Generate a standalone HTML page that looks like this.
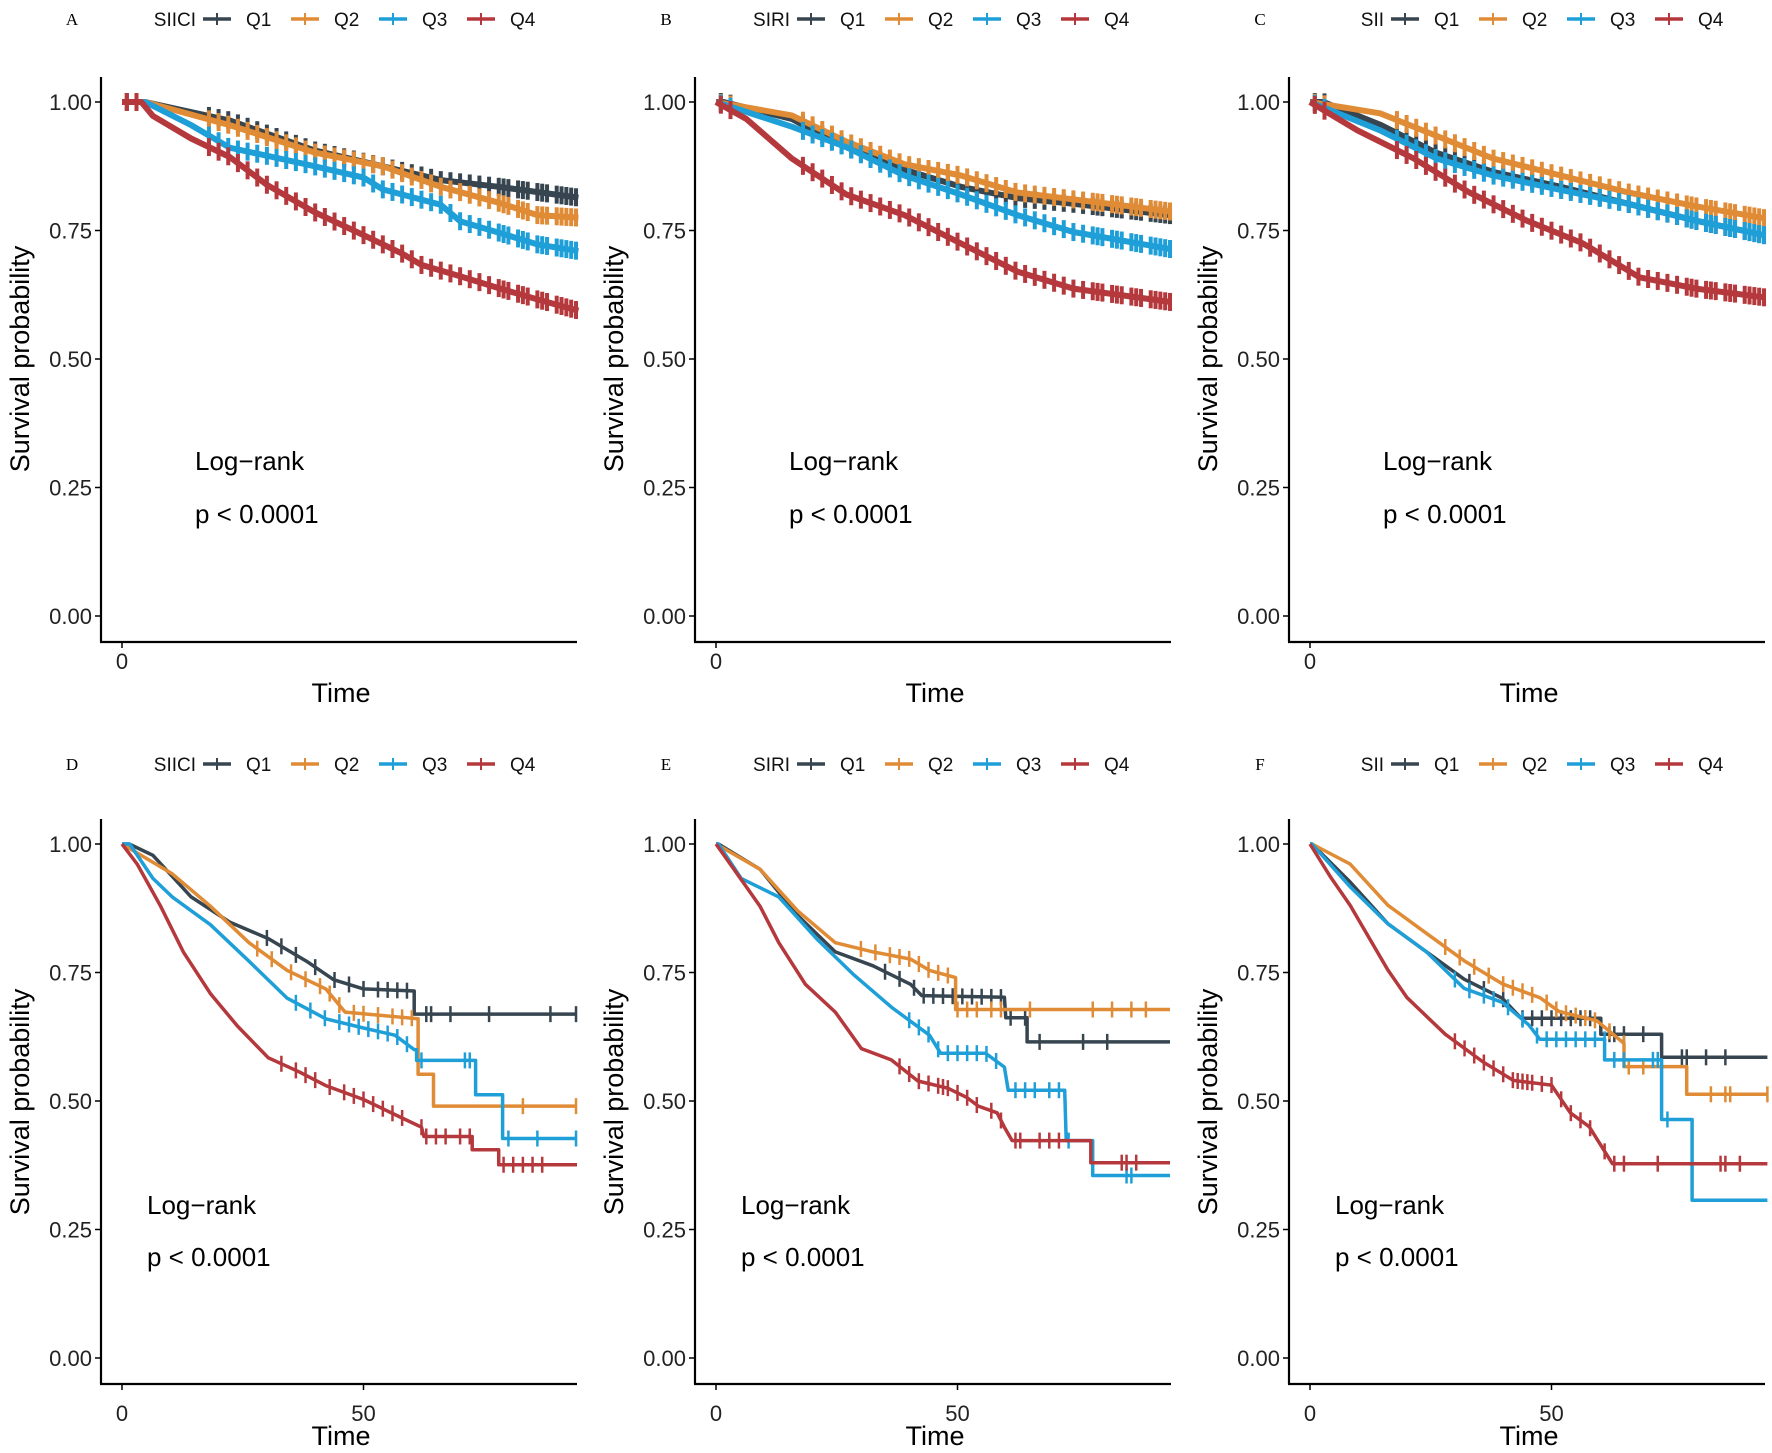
<!DOCTYPE html>
<html><head><meta charset="utf-8">
<style>
html,body{margin:0;padding:0;background:#fff;}
svg{display:block;font-family:"Liberation Sans",Arial,sans-serif;}
</style></head>
<body>
<svg id="chart" width="1772" height="1453" viewBox="0 0 1772 1453" xmlns="http://www.w3.org/2000/svg"></svg>
<script>
// ---- Data (time, survival) ----
const A_Q1=[[0,1],[4.8,1],[22.3,0.964],[39.8,0.906],[54,0.875],[66,0.848],[78,0.835],[94.5,0.814]];
const A_Q2=[[0,1],[4.8,1],[22.3,0.955],[39.8,0.902],[54,0.875],[66,0.835],[78,0.804],[86,0.78],[94.5,0.775]];
const A_Q3=[[0,1],[4.8,1],[14.3,0.955],[22.3,0.911],[38,0.879],[50,0.853],[54,0.83],[66,0.8],[70,0.768],[78,0.746],[86,0.723],[94.5,0.71]];
const A_Q4=[[0,1],[4,1],[6.4,0.973],[14.3,0.929],[22.3,0.893],[30,0.839],[39.8,0.786],[50,0.741],[58,0.705],[62,0.683],[70,0.661],[78,0.638],[86,0.616],[94.5,0.594]];
const B_Q1=[[0,1],[1.6,1],[15.7,0.967],[27,0.912],[39,0.868],[50.7,0.835],[62.4,0.813],[74,0.802],[94,0.78]];
const B_Q2=[[0,1],[15.7,0.974],[27,0.923],[39,0.879],[50.7,0.857],[62.4,0.824],[85.7,0.797],[94,0.787]];
const B_Q3=[[0,1],[15.7,0.952],[27,0.912],[39,0.857],[50.7,0.82],[62.4,0.78],[74,0.747],[94,0.714]];
const B_Q4=[[0,1],[6.3,0.967],[15.7,0.89],[27,0.82],[39,0.78],[50.7,0.725],[62.4,0.67],[74,0.637],[94,0.611]];
const C_Q1=[[0,1],[2.8,1],[14.5,0.956],[26.2,0.901],[37.9,0.864],[51.9,0.835],[65.9,0.802],[79.9,0.769],[94,0.741]];
const C_Q2=[[0,1],[14.5,0.978],[26.2,0.934],[37.9,0.89],[51.9,0.857],[65.9,0.824],[79.9,0.797],[94,0.774]];
const C_Q3=[[0,1],[14.5,0.945],[26.2,0.89],[37.9,0.857],[51.9,0.829],[65.9,0.802],[79.9,0.769],[94,0.741]];
const C_Q4=[[0,1],[9.8,0.945],[21.5,0.89],[33,0.824],[44.9,0.769],[56.5,0.725],[68.2,0.659],[79.9,0.637],[94,0.62]];
const D_Q1=[[0,1],[1.5,1],[6.4,0.978],[14.3,0.897],[22.3,0.848],[30.3,0.816],[38.2,0.772],[43.8,0.736],[50,0.718],[60.5,0.714],[60.5,0.669],[94.2,0.669]];
const D_Q2=[[0,1],[10.4,0.942],[18.3,0.879],[26.3,0.808],[34.2,0.754],[42.2,0.718],[46.2,0.673],[61.3,0.66],[61.3,0.552],[64.5,0.552],[64.5,0.49],[94.2,0.49]];
const D_Q3=[[0,1],[1.6,1],[6.4,0.933],[10.4,0.897],[18.3,0.843],[26.3,0.772],[34.2,0.7],[42.2,0.66],[50,0.642],[56.5,0.628],[60.5,0.6],[61,0.6],[61,0.579],[73.2,0.579],[73.2,0.512],[78.8,0.512],[78.8,0.427],[94.2,0.427]];
const D_Q4=[[0,1],[3.2,0.96],[8,0.879],[12.7,0.79],[18.3,0.709],[23.9,0.646],[30.3,0.584],[36.6,0.557],[42.2,0.53],[50,0.503],[58,0.467],[62,0.449],[62.5,0.431],[72.5,0.431],[72.5,0.405],[78,0.405],[78,0.376],[94.2,0.376]];
const E_Q1=[[0,1],[0.5,1],[9.1,0.951],[16.9,0.861],[24.7,0.79],[32.5,0.763],[40.3,0.727],[42.6,0.705],[59.7,0.702],[60,0.662],[64.4,0.662],[64.4,0.615],[94,0.615]];
const E_Q2=[[0,1],[9.1,0.951],[16.9,0.87],[24.7,0.808],[32.5,0.79],[40.3,0.776],[44.2,0.754],[49.6,0.74],[49.6,0.678],[94,0.678]];
const E_Q3=[[0,1],[0.5,1],[5.2,0.933],[13,0.897],[20.8,0.816],[28.6,0.745],[36.4,0.682],[44.2,0.628],[46.5,0.593],[55.8,0.593],[59.7,0.566],[60.5,0.521],[72.2,0.521],[72.5,0.423],[78,0.423],[78,0.355],[94,0.355]];
const E_Q4=[[0,1],[3.7,0.951],[9.1,0.879],[13,0.808],[18.5,0.727],[24.7,0.673],[30.1,0.602],[36.3,0.58],[41.8,0.539],[48,0.525],[51.9,0.507],[54.3,0.49],[58.2,0.477],[59.7,0.449],[61.3,0.423],[77.6,0.423],[77.6,0.38],[94,0.38]];
const F_Q1=[[0,1],[0.4,1],[8.3,0.926],[16.1,0.845],[24,0.791],[31.9,0.737],[39.8,0.7],[43.7,0.661],[60.2,0.661],[60.2,0.63],[72.8,0.63],[72.8,0.585],[94.7,0.585]];
const F_Q2=[[0,1],[0.4,1],[8.3,0.961],[16.1,0.881],[24,0.827],[31.9,0.773],[39.8,0.728],[47.6,0.701],[51.6,0.674],[59.4,0.656],[65,0.612],[65,0.567],[78,0.567],[78,0.513],[94.7,0.513]];
const F_Q3=[[0,1],[0.4,1],[8.3,0.917],[16.1,0.845],[24,0.791],[31.9,0.719],[39.8,0.692],[45.3,0.648],[47.6,0.62],[61,0.62],[61,0.58],[72.8,0.58],[72.8,0.464],[79.1,0.464],[79.1,0.307],[94.7,0.307]];
const F_Q4=[[0,1],[4.3,0.935],[8.3,0.881],[12.2,0.818],[16.1,0.755],[20.1,0.701],[28,0.63],[35.8,0.576],[42.1,0.54],[50,0.531],[53.9,0.477],[57.8,0.45],[60.2,0.414],[62.6,0.378],[94.7,0.378]];
// censor times
const TOP_CENSOR=[1,3,18,20,22,24,26,28,30,32,34,36,38,40,42,44,46,48,50,52,54,56,58,60,62,64,66,68,70,72,74,76,78,79,80,82,83,84,86,87,88,90,91,92,93,94];
const D_C1=[30,33,36,40,44,47,50,53,55,57,59,63,64,68,76,88.7,94];
const D_C2=[28,31,35,38,41,43,45,48,50,53,56,58,60,83,94];
const D_C3=[36,39,42,45,47,49,51,53,55,57,59,62,71,72,80,86,94];
const D_C4=[33,36,38,40,43,46,48,50,52,54,56,58,62,63,65,67,70,72,79,81,83,85,87];
const E_C1=[35,38,41,43,45,47,49,51,53,55,57,59,61,64,67,76,81];
const E_C2=[30,33,36,38,40,42,44,46,48,50,52,54,57,59,65,78,82,86,89];
const E_C3=[40,42,44,46,48,50,52,54,56,58,62,64,66,69,71,73,85,86];
const E_C4=[38,40,42,44,46,47,48,50,52,54,57,59,62,63,67,69,71,84,85,87];
const F_C1=[33,36,40,44,46,48,50,52,54,56,58,62,63,65,69,77,78,82,86];
const F_C2=[28,31,34,37,40,42,44,46,49,51,53,55,57,59,62,65,66,69,83,86,87,94.7];
const F_C3=[30,33,36,38,41,44,47,49,51,53,55,57,59,61,63,65,71,72,74];
const F_C4=[30,32,34,36,38,40,42,43,44,45,46,48,50,52,54,56,58,61,63,65,72,85,86,89];
const Y_TICKS=["0.00","0.25","0.50","0.75","1.00"];
const Y_TICK_VALUES=[0,0.25,0.5,0.75,1];
const SERIES_NAMES=["Q1","Q2","Q3","Q4"];
const COLORS=["#36454f","#e08b35","#1f9fd8","#b5383c"];

const panels=[
 {id:"A",grp:"SIICI",col:0,row:0,series:[A_Q1,A_Q2,A_Q3,A_Q4],cens:[TOP_CENSOR,TOP_CENSOR,TOP_CENSOR,TOP_CENSOR],xt:[0]},
 {id:"B",grp:"SIRI",col:1,row:0,series:[B_Q1,B_Q2,B_Q3,B_Q4],cens:[TOP_CENSOR,TOP_CENSOR,TOP_CENSOR,TOP_CENSOR],xt:[0]},
 {id:"C",grp:"SII",col:2,row:0,series:[C_Q1,C_Q2,C_Q3,C_Q4],cens:[TOP_CENSOR,TOP_CENSOR,TOP_CENSOR,TOP_CENSOR],xt:[0]},
 {id:"D",grp:"SIICI",col:0,row:1,series:[D_Q1,D_Q2,D_Q3,D_Q4],cens:[D_C1,D_C2,D_C3,D_C4],xt:[0,50]},
 {id:"E",grp:"SIRI",col:1,row:1,series:[E_Q1,E_Q2,E_Q3,E_Q4],cens:[E_C1,E_C2,E_C3,E_C4],xt:[0,50]},
 {id:"F",grp:"SII",col:2,row:1,series:[F_Q1,F_Q2,F_Q3,F_Q4],cens:[F_C1,F_C2,F_C3,F_C4],xt:[0,50]}
];

const NS="http://www.w3.org/2000/svg";
const svg=document.getElementById('chart');
function mk(tag,attrs,parent){const e=document.createElementNS(NS,tag);for(const k in attrs)e.setAttribute(k,attrs[k]);(parent||svg).appendChild(e);return e;}
function txt(s,attrs,parent){const e=mk('text',attrs,parent);e.textContent=s;return e;}
function interp(pts,t){
  if(t<=pts[0][0])return pts[0][1];
  for(let i=1;i<pts.length;i++){
    if(t<=pts[i][0]){const a=pts[i-1],b=pts[i];if(b[0]===a[0])return a[1];return a[1]+(b[1]-a[1])*(t-a[0])/(b[0]-a[0]);}
  }
  return pts[pts.length-1][1];
}

panels.forEach(p=>{
  const ox=p.col*594, top=p.row===0;
  const axisX=101+ox, x0=122+ox, xR=577+ox, ppu=4.83;
  const y1=top?102:844, yScale=514;
  const axisY=y1+yScale+26, axisTop=top?77:819;
  const xs=t=>x0+t*ppu, ys=s=>y1+(1-s)*yScale;
  const g=mk('g',{});
  
  
  const ly=top?19:764;
  const L=txt(p.id,{x:72+ox,y:ly+6,'text-anchor':'middle','font-size':17,'font-family':'"Liberation Serif",serif',fill:'#000'},g);
  
  
  const lg=mk('g',{},g);
  
  
  const lt=txt(p.grp,{x:196+ox,y:ly+7,'text-anchor':'end','font-size':19,fill:'#111'},lg);
  
  
  SERIES_NAMES.forEach((n,i)=>{
    const bx=203+ox+i*88;
    const e=mk('g',{},lg);
    
    
    mk('line',{x1:bx,y1:ly,x2:bx+28,y2:ly,stroke:COLORS[i],'stroke-width':3.5},e);
    mk('line',{x1:bx+14,y1:ly-6,x2:bx+14,y2:ly+6,stroke:COLORS[i],'stroke-width':2},e);
    txt(n,{x:bx+43,y:ly+7,'font-size':19,fill:'#111'},e);
  });
  const ax=mk('line',{x1:axisX,y1:axisTop,x2:axisX,y2:axisY,stroke:'#000','stroke-width':2.2},g);
  
  
  const axx=mk('line',{x1:axisX-1,y1:axisY,x2:xR,y2:axisY,stroke:'#000','stroke-width':2.2},g);
  
  
  Y_TICK_VALUES.forEach((v,i)=>{
    mk('line',{x1:axisX-6,y1:ys(v),x2:axisX,y2:ys(v),stroke:'#000','stroke-width':1.5},g);
    const t=txt(Y_TICKS[i],{x:axisX-9,y:ys(v)+8,'text-anchor':'end','font-size':22,fill:'#222'},g);
    
    
  });
  p.xt.forEach(v=>{
    mk('line',{x1:xs(v),y1:axisY,x2:xs(v),y2:axisY+6,stroke:'#000','stroke-width':1.5},g);
    const t=txt(String(v),{x:xs(v),y:(top?661:1413)+8,'text-anchor':'middle','font-size':22,fill:'#222'},g);
    
    
  });
  const xt=txt('Time',{x:(axisX+xR)/2+2,y:(top?692:1435)+10,'text-anchor':'middle','font-size':27,fill:'#000'},g);
  
  
  const cy=top?359:1102;
  const yt=txt('Survival probability',{x:0,y:0,transform:`translate(${29+ox},${cy}) rotate(-90)`,'text-anchor':'middle','font-size':27,fill:'#000'},g);
  
  
  const ax0=top?axisX+94:axisX+46;
  const a1=txt('Log\u2212rank',{x:ax0,y:(top?461:1205)+9,'font-size':26,fill:'#000'},g);
  
  
  const a2=txt('p < 0.0001',{x:ax0,y:(top?514:1257)+9,'font-size':26,fill:'#000'},g);
  
  
  p.series.forEach((pts,i)=>{
    const sg=mk('g',{},g);
    
    
    mk('polyline',{points:pts.map(q=>xs(q[0]).toFixed(1)+','+ys(q[1]).toFixed(1)).join(' '),fill:'none',stroke:COLORS[i],'stroke-width':top?6:3.5,'stroke-linejoin':'round'},sg);
    p.cens[i].forEach(t=>{
      const s=interp(pts,t);
      const h=top?9:8;
      const m=mk('line',{x1:xs(t),y1:ys(s)-h,x2:xs(t),y2:ys(s)+h,stroke:COLORS[i],'stroke-width':top?4:2.5},sg);
      
      
    });
  });
});
</script>
</body></html>
